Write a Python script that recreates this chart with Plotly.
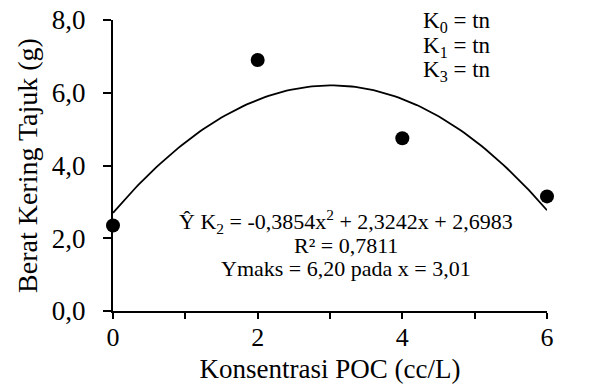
import numpy as np
import plotly.graph_objects as go

# Data
konsentrasi = [0, 2, 4, 6]
berat_kering = [2.35, 6.9, 4.75, 3.15]
coef = [-0.3854, 2.3242, 2.6983]  # quadratic fit coefficients (a, b, c)
x_ticks = [0, 2, 4, 6]
x_ticklabels = ["0", "2", "4", "6"]
x_minor_ticks = [1, 3, 5]
y_ticks = [0, 2, 4, 6, 8]
y_ticklabels = ["0,0", "2,0", "4,0", "6,0", "8,0"]

xf = np.linspace(0, 6, 121)
yf = np.polyval(coef, xf)

FONT = "Liberation Serif, Times New Roman, serif"

fig = go.Figure()
fig.add_trace(go.Scatter(x=xf, y=yf, mode="lines",
                         line=dict(color="black", width=1.8), showlegend=False,
                         cliponaxis=False))
fig.add_trace(go.Scatter(x=konsentrasi, y=berat_kering, mode="markers",
                         marker=dict(color="black", size=14), showlegend=False,
                         cliponaxis=False))

fig.update_layout(
    width=595, height=385,
    margin=dict(l=113, r=48, t=20, b=74),
    paper_bgcolor="white", plot_bgcolor="white",
    font=dict(family=FONT, color="black"),
    xaxis=dict(range=[0, 6], tickvals=x_ticks, ticktext=x_ticklabels,
               showgrid=False, zeroline=False, showline=True, linecolor="black",
               linewidth=2, ticks="outside", ticklen=6, tickwidth=2, tickcolor="black",
               minor=dict(tickvals=x_minor_ticks, ticks="outside", ticklen=6,
                          tickwidth=2, tickcolor="black", showgrid=False),
               tickfont=dict(size=26, family=FONT), automargin=False,
               ticklabelstandoff=-4, ticklabeloverflow="allow",
               title=dict(text="Konsentrasi POC (cc/L)", font=dict(size=27, family=FONT),
                          standoff=8)),
    yaxis=dict(range=[0, 8], tickvals=y_ticks, ticktext=y_ticklabels,
               showgrid=False, zeroline=False, showline=True, linecolor="black",
               linewidth=2, ticks="outside", ticklen=8, tickwidth=2, tickcolor="black",
               tickfont=dict(size=27, family=FONT), automargin=False,
               ticklabelstandoff=12, ticklabeloverflow="allow",
               title=dict(text="Berat Kering Tajuk (g)", font=dict(size=28, family=FONT),
                          standoff=6)),
)

ann_font = dict(size=22, family=FONT, color="black")
eq_lines = [
    ("Ŷ K<sub>2</sub> = -0,3854x<sup>2</sup> + 2,3242x + 2,6983", 2.45),
    ("R² = 0,7811", 1.81),
    ("Ymaks = 6,20 pada x = 3,01", 1.18),
]
for txt, yy in eq_lines:
    fig.add_annotation(x=3.22, y=yy, xref="x", yref="y", text=txt, showarrow=False,
                       font=ann_font, xanchor="center", yanchor="middle")

k_font = dict(size=23, family=FONT, color="black")
for txt, yy in [("K<sub>0</sub> = tn", 7.94), ("K<sub>1</sub> = tn", 7.25), ("K<sub>3</sub> = tn", 6.59)]:
    fig.add_annotation(x=4.26, y=yy, xref="x", yref="y", text=txt, showarrow=False,
                       font=k_font, xanchor="left", yanchor="middle")

fig.add_annotation(x=6.12, y=3.05, xref="x", yref="y", text="K<sub>2</sub>", showarrow=False,
                   font=k_font, xanchor="left", yanchor="middle")

fig.write_html("out.html", config={"displayModeBar": False},
               post_script="document.body.style.margin='0';")
